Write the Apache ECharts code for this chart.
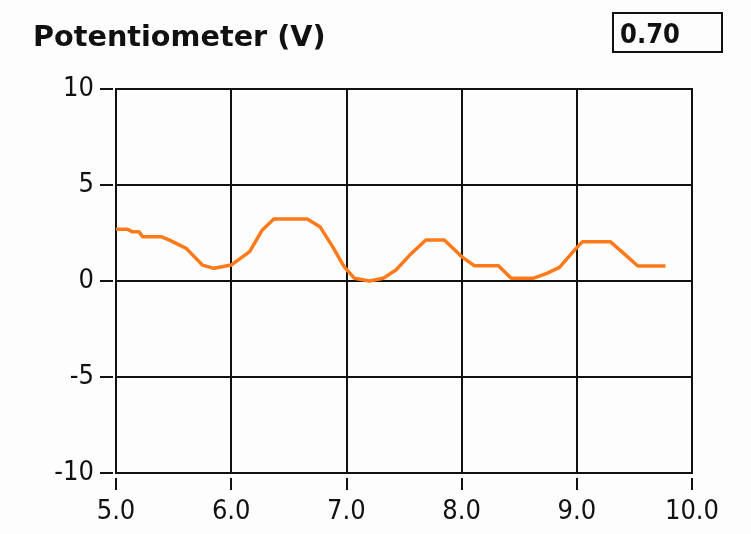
<!DOCTYPE html>
<html>
<head>
<meta charset="utf-8">
<script src="https://cdn.jsdelivr.net/npm/echarts@6/dist/echarts.min.js"></script>
<style>
html,body{margin:0;padding:0;background:#fcfdfc;}
#c{width:751px;height:534px;}
</style>
</head>
<body>
<div id="c"></div>
<script>
var titleText = 'Potentiometer (V)';
var currentValue = '0.70';
var xTickLabels = ['5.0','6.0','7.0','8.0','9.0','10.0'];
var times = [5.00, 5.10, 5.14, 5.20, 5.23, 5.39, 5.46, 5.61, 5.75, 5.85, 6.00, 6.16, 6.27, 6.37, 6.66, 6.77, 6.88, 6.98, 7.07, 7.20, 7.32, 7.43, 7.55, 7.69, 7.85, 8.00, 8.11, 8.32, 8.43, 8.62, 8.74, 8.85, 8.98, 9.05, 9.29, 9.39, 9.53, 9.77];
var volts = [2.69, 2.69, 2.57, 2.57, 2.31, 2.31, 2.14, 1.70, 0.83, 0.66, 0.83, 1.53, 2.66, 3.23, 3.23, 2.83, 1.79, 0.75, 0.14, 0.00, 0.14, 0.57, 1.35, 2.14, 2.14, 1.27, 0.80, 0.80, 0.14, 0.14, 0.40, 0.71, 1.61, 2.05, 2.05, 1.53, 0.78, 0.78];

var FONT = "'DejaVu Sans Condensed', 'Liberation Sans Narrow', 'DejaVu Sans', sans-serif";
var TFONT = "'DejaVu Sans', sans-serif";
var chart = echarts.init(document.getElementById('c'), null, {renderer:'canvas'});
var pts = times.map(function(t,i){return [t, volts[i]];});
var clear = 'rgba(0,0,0,0)';
chart.setOption({
  backgroundColor:'#fcfdfc',
  animation:false,
  title:{text:titleText, left:28, top:19, textStyle:{fontFamily:TFONT, fontWeight:'bold', fontSize:28.7, color:'#111'}},
  graphic:[
    {type:'rect', shape:{x:613, y:13, width:109, height:39}, style:{fill:'#fcfdfc', stroke:'#111', lineWidth:2}},
    {type:'text', left:620, top:22, style:{text:currentValue, font:"bold 27px " + FONT, fill:'#111'}}
  ],
  grid:{left:116, right:59, top:89, bottom:61, show:true, borderColor:'#111', borderWidth:2, backgroundColor:'#fcfdfc'},
  xAxis:{type:'value', min:5, max:10, interval:1, offset:5,
    axisLine:{show:true, onZero:false, lineStyle:{color:clear, width:1}},
    axisTick:{show:true, length:12, lineStyle:{color:'#111', width:2}},
    axisLabel:{margin:20, color:'#111', fontFamily:FONT, fontSize:27,
      formatter:function(v){return xTickLabels[Math.round(v-5)];}},
    splitLine:{show:true, lineStyle:{color:'#111', width:2}}},
  yAxis:{type:'value', min:-10, max:10, interval:5, offset:3,
    axisLine:{show:true, onZero:false, lineStyle:{color:clear, width:1}},
    axisTick:{show:true, length:13, lineStyle:{color:'#111', width:2}},
    axisLabel:{margin:19, color:'#111', fontFamily:FONT, fontSize:27},
    splitLine:{show:true, lineStyle:{color:'#111', width:2}}},
  series:[{type:'line', data:pts, showSymbol:false, lineStyle:{color:'#ff7a1a', width:3.5}, itemStyle:{color:'#ff7a1a'}}]
});
</script>
</body>
</html>
